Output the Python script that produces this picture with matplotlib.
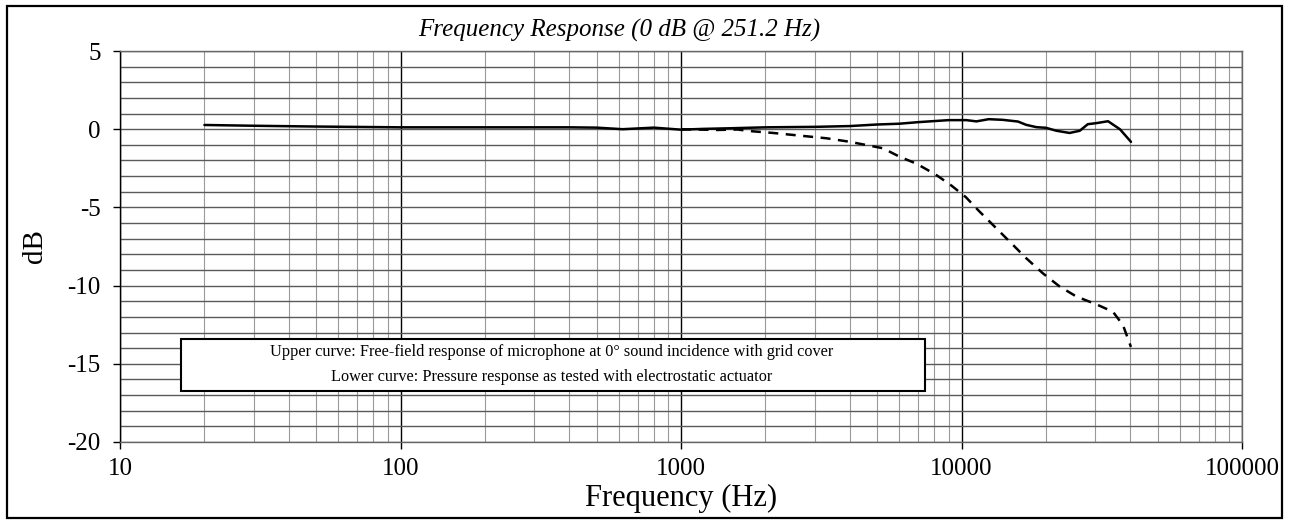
import matplotlib
matplotlib.use('Agg')
from matplotlib import pyplot, patches
from matplotlib.ticker import LogLocator, FixedLocator, NullFormatter
import numpy as np

# Upper curve: free-field response (solid)
upper_freq = [20, 30, 50, 100, 200, 400, 500, 620, 800, 1000, 1200, 1500, 2000, 3000,
              4000, 5000, 6000, 7000, 8000, 9000, 10400, 11300, 12500, 14000, 15900,
              17000, 18500, 20000, 21800, 24300, 26400, 28200, 30300, 33300, 36700, 40200]
upper_db = [0.27, 0.22, 0.17, 0.12, 0.12, 0.12, 0.1, 0.0, 0.1, -0.03, 0.02, 0.06, 0.12, 0.15,
            0.2, 0.3, 0.35, 0.45, 0.52, 0.58, 0.58, 0.5, 0.64, 0.6, 0.49,
            0.28, 0.13, 0.09, -0.1, -0.24, -0.1, 0.32, 0.39, 0.51, 0.0, -0.81]

# Lower curve: pressure response (dashed)
lower_freq = [1000, 1340, 1590, 1760, 2130, 2650, 3300, 3980, 5250, 6000, 6900, 8090, 9200,
              10370, 11570, 12910, 14820, 16990, 19490, 22390, 25690, 30260, 34660, 37650, 40180]
lower_db = [0.0, -0.05, -0.02, -0.12, -0.24, -0.41, -0.58, -0.8, -1.22, -1.75, -2.2, -2.9, -3.6,
            -4.35, -5.25, -6.1, -7.17, -8.24, -9.21, -10.06, -10.7, -11.2, -11.67, -12.53, -13.92]

x_ticks = [10, 100, 1000, 10000, 100000]
x_tick_labels = ['10', '100', '1000', '10000', '100000']
y_ticks = [5, 0, -5, -10, -15, -20]

title = 'Frequency Response (0 dB @ 251.2 Hz)'
note_lines = ['Upper curve: Free-field response of microphone at 0\u00b0 sound incidence with grid cover',
              'Lower curve: Pressure response as tested with electrostatic actuator']

pyplot.rcParams['font.family'] = ['Liberation Serif', 'DejaVu Serif']
pyplot.rcParams['axes.unicode_minus'] = False

W, H = 1289, 525
fig = pyplot.figure(figsize=(W / 100, H / 100), dpi=100)
ax = fig.add_axes([120 / W, 1 - 442 / H, (1242 - 120) / W, (442 - 51) / H])

ax.set_xscale('log')
ax.set_xlim(10, 100000)
ax.set_ylim(-20, 5)

ax.plot(upper_freq, upper_db, color='black', lw=1.8, solid_capstyle='round', zorder=5)
ax.plot(lower_freq, lower_db, color='black', lw=1.8, dashes=(4, 3), zorder=5)

ax.set_xticks(x_ticks)
ax.set_xticklabels(x_tick_labels)
ax.xaxis.set_minor_locator(LogLocator(base=10, subs=np.arange(2, 10)))
ax.xaxis.set_minor_formatter(NullFormatter())
ax.set_yticks(y_ticks)
ax.yaxis.set_minor_locator(FixedLocator(np.arange(-20, 6, 1)))

ax.tick_params(which='major', direction='out', length=5, width=1, color='black',
               labelsize=18)
ax.tick_params(which='minor', length=0)
ax.tick_params(axis='x', pad=6.5)
ax.tick_params(axis='y', pad=9)

ax.xaxis.grid(True, which='minor', color='#9a9a9a', lw=0.8)
ax.xaxis.grid(True, which='major', color='black', lw=1.0)
ax.yaxis.grid(True, which='both', color='#5a5a5a', lw=1.0)
ax.set_axisbelow(True)

for side in ['top', 'right', 'bottom']:
    ax.spines[side].set_color('#666666')
    ax.spines[side].set_linewidth(1.0)
ax.spines['left'].set_color('black')
ax.spines['left'].set_linewidth(1.0)

ax.set_xlabel('Frequency (Hz)', fontsize=22, labelpad=3)
ax.set_ylabel('dB', fontsize=21, labelpad=14)

fig.text(619 / W, 1 - 30 / H, title, fontsize=18, style='italic', ha='center', va='center')

# note box
box = patches.Rectangle((181 / W, 1 - 391 / H), (925 - 181) / W, (391 - 339) / H,
                        transform=fig.transFigure, facecolor='white', edgecolor='black',
                        lw=1.5, zorder=10)
fig.patches.append(box)
fig.text(552 / W, 1 - 352 / H, note_lines[0], fontsize=11.7, ha='center', va='center', zorder=11)
fig.text(552 / W, 1 - 377 / H, note_lines[1], fontsize=11.7, ha='center', va='center', zorder=11)

# outer frame
frame = patches.Rectangle((7 / W, 1 - 518 / H), (1282 - 7) / W, (518 - 6) / H,
                          transform=fig.transFigure, facecolor='none', edgecolor='black', lw=1.6)
fig.patches.append(frame)

fig.savefig('out.png', dpi=100)
